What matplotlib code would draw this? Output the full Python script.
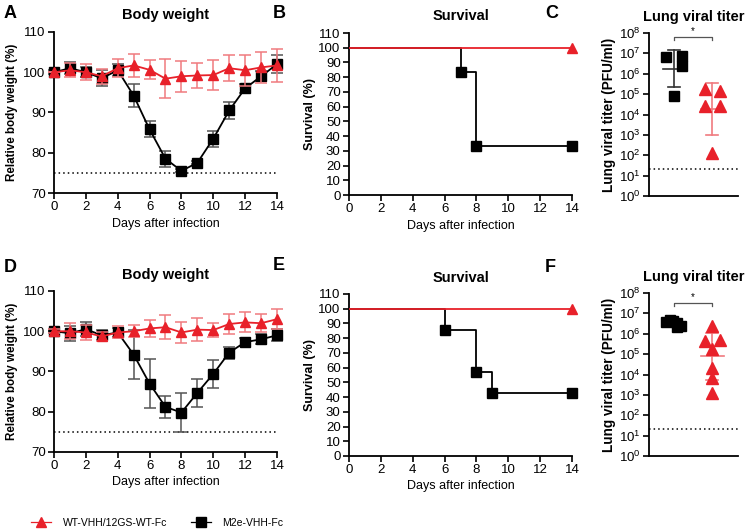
import numpy as np
import matplotlib
matplotlib.use("Agg")
import matplotlib.pyplot as plt
from matplotlib.lines import Line2D

plt.rcParams['font.family'] = ['Liberation Sans', 'DejaVu Sans']
plt.rcParams['mathtext.fontset'] = 'custom'
plt.rcParams['mathtext.rm'] = 'Liberation Sans'
plt.rcParams['axes.linewidth'] = 1.3

RED = '#e8212a'
RED_ERR = '#f07a7f'
BLACK = '#000000'

days = np.arange(0, 15)

# Panel A body weight
a_red = [100, 100.5, 100, 99, 101, 101.7, 100.6, 98.4, 99.0, 99.2, 99.3, 101.0, 100.5, 101.2, 101.7]
a_red_err = [0, 1.8, 2.0, 1.8, 2.2, 2.8, 2.4, 4.8, 3.8, 3.2, 3.8, 3.2, 3.8, 3.8, 4.0]
a_blk = [100, 101, 100, 98.5, 100.5, 94.2, 85.8, 78.5, 75.5, 77.5, 83.5, 90.5, 96.0, 99.0, 102.0]
a_blk_err = [0.5, 1.5, 1.2, 2.0, 1.5, 2.8, 2.0, 2.0, 0.4, 0.4, 2.0, 2.0, 1.2, 1.2, 2.2]

# Panel D body weight
d_red = [100, 100, 99.7, 98.7, 99.7, 100, 100.7, 101, 99.7, 100.4, 100.3, 101.8, 102.2, 102, 103]
d_red_err = [0.5, 2.0, 1.8, 1.2, 1.5, 1.5, 2.2, 3.0, 2.5, 2.8, 1.8, 2.5, 2.5, 2.2, 2.5]
d_blk = [100, 99.5, 100.5, 99, 99.7, 94.2, 87, 81.2, 79.8, 84.7, 89.4, 94.7, 97.3, 98, 99]
d_blk_err = [0.5, 1.8, 1.8, 1.2, 1.2, 6.0, 6.0, 2.8, 4.8, 3.5, 3.5, 1.5, 1.0, 1.2, 1.5]

# Survival
b_red_t = [0, 14]
b_red_s = [100, 100]
b_blk_t = [0, 7, 8, 14]
b_blk_s = [100, 83.3, 33.3, 33.3]
e_red_t = [0, 14]
e_red_s = [100, 100]
e_blk_t = [0, 6, 8, 9, 14]
e_blk_s = [100, 85.7, 57.1, 42.9, 42.9]

# Lung viral titers (PFU/ml)
c_blk = [6.3e6, 7.6e6, 2.4e6, 8.5e4]
c_blk_dx = [-0.22, 0.22, 0.22, 0.0]
c_red = [1.8e5, 1.4e5, 2.7e4, 2.5e4, 135]
c_red_dx = [-0.2, 0.2, -0.2, 0.2, 0.0]
f_blk = [3.6e6, 4.5e6, 4.0e6, 3.2e6, 2.4e6, 2.2e6]
f_blk_dx = [-0.22, -0.12, -0.02, 0.08, 0.18, 0.08]
f_red = [2.3e6, 4.2e5, 5.0e5, 1.8e5, 2.2e4, 6.6e3, 1.3e3]
f_red_dx = [0.0, -0.2, 0.2, 0.0, 0.0, 0.0, 0.0]
lod = 20

W, H = 750, 531
fig = plt.figure(figsize=(W / 100, H / 100), dpi=100)

def rect(l, r, t, b):
    return [l / W, 1 - b / H, (r - l) / W, (b - t) / H]

TICK_FS = 9.5
XLAB_FS = 9
TITLE_FS = 10.5

def style(ax):
    for s in ['top', 'right']:
        ax.spines[s].set_visible(False)
    ax.tick_params(direction='out', length=4, width=1.2, labelsize=TICK_FS, pad=2)

def body(ax, red, red_err, blk, blk_err, title):
    ax.axhline(75, color='black', ls=(0, (1, 2)), lw=1.1)
    ax.errorbar(days, blk, yerr=blk_err, color=BLACK, ecolor='#555555', marker='s', ms=7,
                lw=1.3, capsize=4, elinewidth=1.1, capthick=1.1, clip_on=False, zorder=3)
    ax.errorbar(days, red, yerr=red_err, color=RED, ecolor=RED_ERR, marker='^', ms=7.5,
                lw=1.3, capsize=4.5, elinewidth=1.1, capthick=1.1, clip_on=False, zorder=4)
    ax.set_xlim(0, 14)
    ax.set_ylim(70, 110)
    ax.set_xticks(range(0, 15, 2))
    ax.set_yticks(range(70, 111, 10))
    style(ax)
    ax.set_xlabel('Days after infection', fontsize=XLAB_FS, labelpad=3)
    ax.set_ylabel('Relative body weight (%)', fontsize=8.4, fontweight='bold', labelpad=4)
    ax.set_title(title, fontsize=TITLE_FS, fontweight='bold', pad=9)

def surv(ax, rt, rs, bt, bs):
    ax.step(bt, bs, where='post', color=BLACK, lw=1.3, zorder=3)
    ax.plot(bt[1:], bs[1:], 's', color=BLACK, ms=7.5, clip_on=False, zorder=4)
    ax.step(rt, rs, where='post', color=RED, lw=1.3, zorder=5)
    ax.plot(rt[-1:], rs[-1:], '^', color=RED, ms=7.5, clip_on=False, zorder=6)
    ax.set_xlim(0, 14)
    ax.set_ylim(0, 110)
    ax.set_xticks(range(0, 15, 2))
    ax.set_yticks(range(0, 111, 10))
    style(ax)
    ax.set_xlabel('Days after infection', fontsize=XLAB_FS, labelpad=3)
    ax.set_ylabel('Survival (%)', fontsize=9, fontweight='bold', labelpad=2)
    ax.set_title('Survival', fontsize=TITLE_FS, fontweight='bold', pad=9)

def titer(ax, blk, blk_dx, red, red_dx, brk_y):
    ax.set_yscale('log')
    ax.set_ylim(1, 1e8)
    ax.set_xlim(0.34, 2.68)
    ax.axhline(lod, color='black', ls=(0, (1, 2)), lw=1.1)
    for xc, vals, col, ecol, mk in [(1, blk, BLACK, '#333333', 's'), (2, red, RED, RED_ERR, '^')]:
        lv = np.log10(vals)
        m = lv.mean()
        sd = lv.std(ddof=1)
        ax.plot([xc - 0.3, xc + 0.3], [10 ** m, 10 ** m], color=ecol, lw=1.2, zorder=2)
        ax.plot([xc, xc], [10 ** (m - sd), 10 ** (m + sd)], color=ecol, lw=1.2, zorder=2)
        for yy in (m - sd, m + sd):
            ax.plot([xc - 0.16, xc + 0.16], [10 ** yy, 10 ** yy], color=ecol, lw=1.2, zorder=2)
    ax.plot(1 + np.array(blk_dx), blk, 's', color=BLACK, ms=7.5, zorder=3)
    ax.plot(2 + np.array(red_dx), red, '^', color=RED, ms=8, zorder=3)
    # significance bracket
    top = 10 ** brk_y
    low = 10 ** (brk_y - 0.15)
    ax.plot([1, 1, 2, 2], [low, top, top, low], color='#555555', lw=0.9, clip_on=False)
    ax.text(1.5, 10 ** (brk_y + 0.05), '*', ha='center', va='bottom', fontsize=7)
    ax.set_yticks([10 ** k for k in range(0, 9)])
    ax.set_yticklabels([r'$\mathregular{10^{%d}}$' % k for k in range(0, 9)])
    ax.minorticks_off()
    ax.set_xticks([])
    style(ax)
    ax.spines['bottom'].set_linewidth(1.3)
    ax.set_ylabel('Lung viral titer (PFU/ml)', fontsize=9.8, fontweight='bold', labelpad=2)
    ax.set_title('Lung viral titer', fontsize=TITLE_FS, fontweight='bold', pad=9)

axA = fig.add_axes(rect(54, 277, 32, 193))
body(axA, a_red, a_red_err, a_blk, a_blk_err, 'Body weight')
axB = fig.add_axes(rect(349, 572, 33, 195))
surv(axB, b_red_t, b_red_s, b_blk_t, b_blk_s)
axC = fig.add_axes(rect(649, 738, 33, 196))
titer(axC, c_blk, c_blk_dx, c_red, c_red_dx, 7.8)

axD = fig.add_axes(rect(54, 277, 291, 452))
body(axD, d_red, d_red_err, d_blk, d_blk_err, 'Body weight')
axE = fig.add_axes(rect(349, 572, 294, 456))
surv(axE, e_red_t, e_red_s, e_blk_t, e_blk_s)
axF = fig.add_axes(rect(649, 738, 293, 456))
titer(axF, f_blk, f_blk_dx, f_red, f_red_dx, 7.5)

for letter, x, y in [('A', 4, 13), ('B', 273, 13), ('C', 545, 13),
                     ('D', 4, 267), ('E', 273, 265), ('F', 545, 267)]:
    fig.text(x / W, 1 - y / H, letter, fontsize=13, fontweight='bold', va='center', ha='left')

handles = [Line2D([], [], color=RED, marker='^', ms=7.5, lw=0.9),
           Line2D([], [], color=BLACK, marker='s', ms=7, lw=0.9)]
fig.legend(handles, ['WT-VHH/12GS-WT-Fc', 'M2e-VHH-Fc'], loc='center left',
           bbox_to_anchor=(22 / W, 1 - 523 / H), ncol=2, frameon=False, fontsize=7.5,
           handlelength=1.9, columnspacing=2.3, handletextpad=1.1)

fig.savefig('out.png', dpi=100)
